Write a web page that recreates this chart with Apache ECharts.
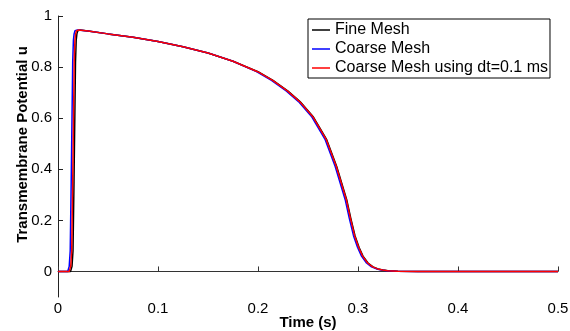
<!DOCTYPE html>
<html>
<head>
<meta charset="utf-8">
<script src="https://cdn.jsdelivr.net/npm/echarts@6/dist/echarts.min.js"></script>
<style>
html,body{margin:0;padding:0;background:#fff;}
#chart{width:570px;height:331px;}
</style>
</head>
<body>
<div id="chart"></div>
<script>
// Shared potential values (u) sampled along the action potential
const uValues = [0, 0, 0.005, 0.02, 0.08, 0.35, 0.6, 0.82, 0.905, 0.93, 0.942, 0.945, 0.941, 0.930, 0.917, 0.900, 0.880, 0.855, 0.823, 0.782, 0.748, 0.706, 0.665, 0.607, 0.516, 0.411, 0.281, 0.21, 0.14, 0.095, 0.06, 0.033, 0.018, 0.01, 0.006, 0.003, 0.001, 0, 0];
// Time samples (s) for each series
const tFine     = [0, 0.0125, 0.0133, 0.014, 0.015, 0.016, 0.0168, 0.0175, 0.0182, 0.0189, 0.0198, 0.022, 0.03, 0.05, 0.075, 0.1, 0.125, 0.15, 0.175, 0.2, 0.215, 0.23, 0.242, 0.255, 0.2687, 0.2787, 0.2887, 0.2927, 0.297, 0.301, 0.305, 0.31, 0.315, 0.32, 0.325, 0.33, 0.34, 0.36, 0.5];
const tCoarse   = [0, 0.0097, 0.0105, 0.0112, 0.0122, 0.0132, 0.014, 0.0147, 0.0154, 0.0161, 0.0170, 0.0195, 0.03, 0.05, 0.075, 0.1, 0.125, 0.15, 0.175, 0.1985, 0.2135, 0.2285, 0.2405, 0.2535, 0.2672, 0.2772, 0.2872, 0.2912, 0.2955, 0.2995, 0.3035, 0.3085, 0.3135, 0.3185, 0.3235, 0.3285, 0.3385, 0.36, 0.5];
const tCoarseDt = [0, 0.0112, 0.0120, 0.0127, 0.0137, 0.0147, 0.0155, 0.0162, 0.0169, 0.0176, 0.0185, 0.0207, 0.03, 0.05, 0.075, 0.1, 0.125, 0.15, 0.175, 0.1996, 0.2146, 0.2296, 0.2416, 0.2546, 0.2683, 0.2783, 0.2883, 0.2923, 0.2966, 0.3006, 0.3046, 0.3096, 0.3146, 0.3196, 0.3246, 0.3296, 0.3396, 0.36, 0.5];

const seriesNames = ['Fine Mesh', 'Coarse Mesh', 'Coarse Mesh using dt=0.1 ms'];
const seriesColors = ['#000000', '#0000ff', '#ff0000'];
const xTicks = [0, 0.1, 0.2, 0.3, 0.4, 0.5];
const yTicks = [0, 0.2, 0.4, 0.6, 0.8, 1];

function pairs(ts, us) { return ts.map((t, i) => [t, us[i]]); }
const tArrays = [tFine, tCoarse, tCoarseDt];

const chart = echarts.init(document.getElementById('chart'), null, {renderer: 'canvas'});
const font = 'Liberation Sans, Arial, Helvetica, sans-serif';
chart.setOption({
  animation: false,
  backgroundColor: '#fff',
  textStyle: {fontFamily: font, color: '#000'},
  grid: {left: 58, right: 12, top: 16, bottom: 34, containLabel: false, outerBoundsMode: 'none'},
  legend: {
    data: seriesNames,
    orient: 'vertical',
    left: 308, top: 19,
    padding: [3, 2, 2, 4],
    itemGap: 3,
    itemWidth: 18, itemHeight: 1.5,
    icon: 'rect',
    borderColor: '#000', borderWidth: 1,
    backgroundColor: '#fff',
    textStyle: {fontFamily: font, fontSize: 16, color: '#000'}
  },
  xAxis: {
    type: 'value', min: 0, max: 0.5, interval: 0.1,
    name: 'Time (s)', nameLocation: 'middle', nameGap: 18, nameMoveOverlap: false,
    nameTextStyle: {fontFamily: font, fontSize: 15, fontWeight: 'bold', color: '#000'},
    axisLine: {show: true, lineStyle: {color: '#333', width: 1}},
    axisTick: {show: true, inside: true, length: 5, lineStyle: {color: '#333'}},
    axisLabel: {fontFamily: font, fontSize: 15, color: '#000', margin: 4,
      formatter: v => String(Math.round(v * 10) / 10)},
    splitLine: {show: false}
  },
  yAxis: {
    type: 'value', min: -0.1, max: 1,
    name: 'Transmembrane Potential u', nameLocation: 'middle', nameGap: 28, nameMoveOverlap: false,
    nameTextStyle: {fontFamily: font, fontSize: 15, fontWeight: 'bold', color: '#000', padding: [0, 0, 0, 24]},
    axisLine: {show: true, lineStyle: {color: '#222', width: 1}},
    axisTick: {show: true, inside: true, length: 5, lineStyle: {color: '#222'}, customValues: yTicks},
    axisLabel: {fontFamily: font, fontSize: 15, color: '#000', margin: 6, customValues: yTicks,
      formatter: v => String(Math.round(v * 10) / 10)},
    splitLine: {show: false}
  },
  series: seriesNames.map((n, i) => ({
    name: n, type: 'line',
    data: pairs(tArrays[i], uValues),
    showSymbol: false, symbol: 'none',
    smooth: false,
    lineStyle: {color: seriesColors[i], width: 1.5},
    itemStyle: {color: seriesColors[i]},
    z: 2 + i
  }))
});
</script>
</body>
</html>
